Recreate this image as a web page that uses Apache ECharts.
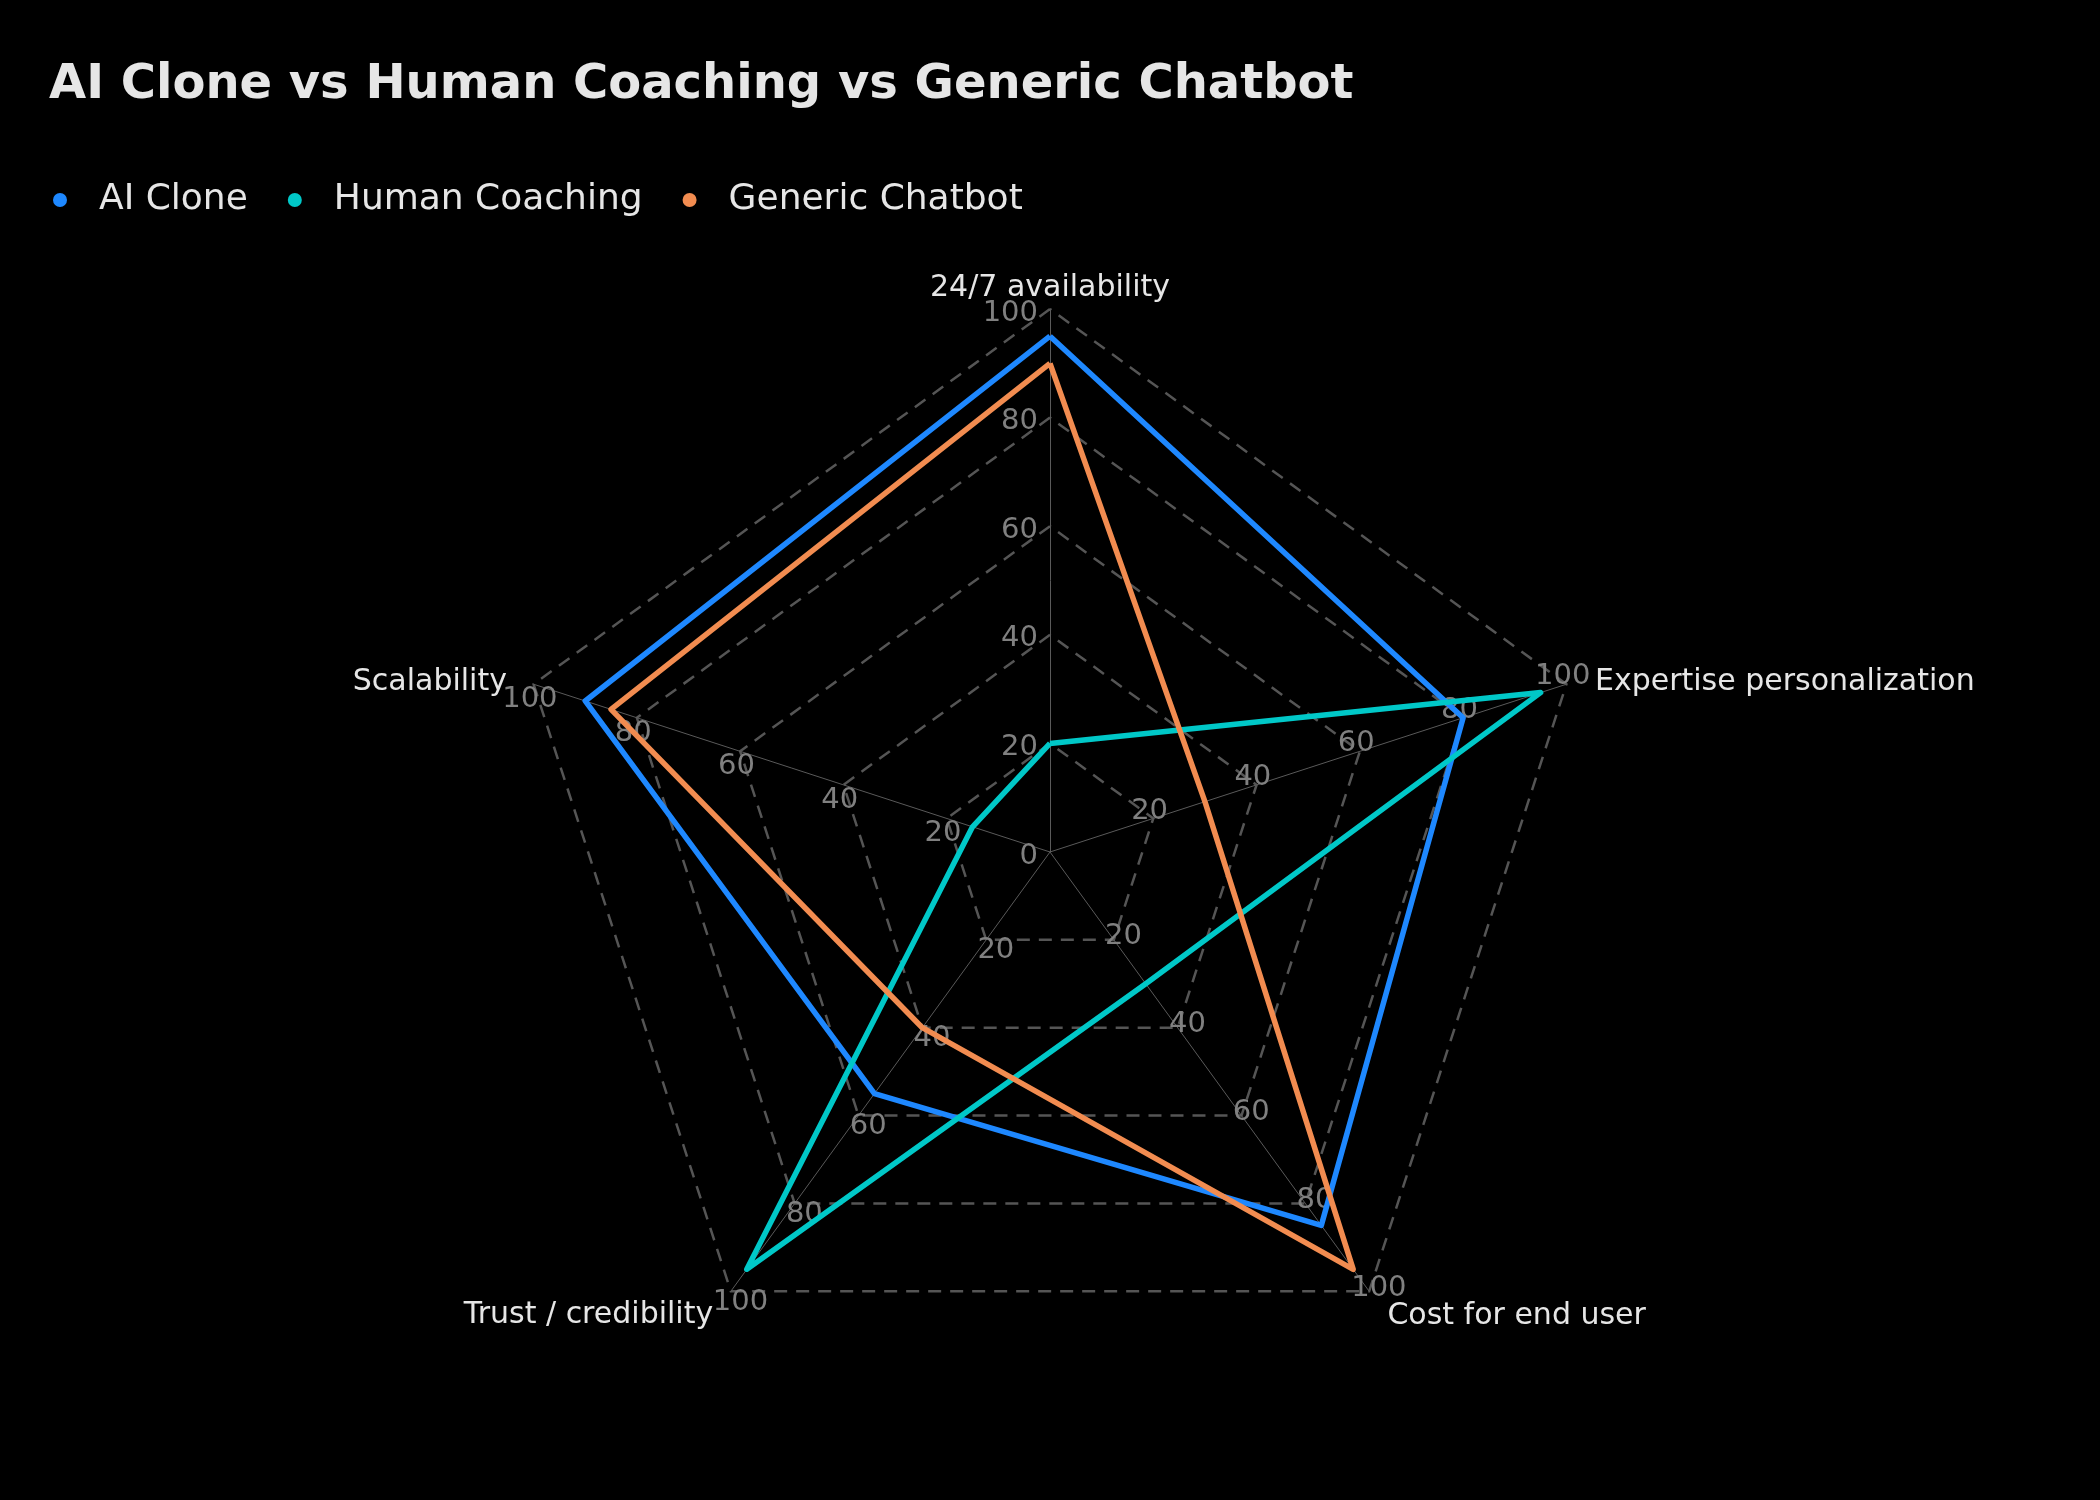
<!DOCTYPE html>
<html>
<head>
<meta charset="utf-8">
<title>AI Clone vs Human Coaching vs Generic Chatbot</title>
<script src="https://cdn.jsdelivr.net/npm/echarts@6/dist/echarts.min.js"></script>
<style>
  html, body { margin: 0; padding: 0; background: #000; }
  #chart { width: 2100px; height: 1500px; }
</style>
</head>
<body>
<div id="chart"></div>
<script>
  // radar axes, listed counter-clockwise from the top (echarts order)
  const indicatorNames = [
    "24/7 availability",
    "Scalability",
    "Trust / credibility",
    "Cost for end user",
    "Expertise personalization",
  ];
  const seriesNames = ["AI Clone", "Human Coaching", "Generic Chatbot"];
  const aiClone = [95, 90, 55, 85, 80];
  const humanCoaching = [20, 15, 95, 30, 95];
  const genericChatbot = [90, 85, 40, 95, 30];
  const seriesColors = ["#1e88ff", "#00c8c8", "#f28c50"];

  const FONT = "DejaVu Sans";
  const chart = echarts.init(document.getElementById("chart"));

  // gap between the 100 vertex and the axis name, per axis
  const nameGaps = [6, 28, 30, 31, 30];
  // names on the two upper side axes sit a bit lower
  const lowNames = ["Scalability", "Expertise personalization"];

  const indicators = indicatorNames.map((n, i) => ({
    name: n,
    min: 0,
    max: 100,
    nameGap: nameGaps[i],
    nameMoveOverlap: false,
    // only the top axis keeps its "0", the others would stack on it
    axisLabel: i === 0
      ? { showMinLabel: true }
      : { showMinLabel: false, align: "center", verticalAlign: "middle" },
  }));

  const option = {
    backgroundColor: "#000000",
    textStyle: { fontFamily: FONT },
    title: {
      text: "AI Clone vs Human Coaching vs Generic Chatbot",
      left: 44,
      top: 57,
      textStyle: { color: "#e6e6e6", fontSize: 48, fontWeight: "bold", fontFamily: FONT },
    },
    legend: {
      left: 48,
      top: 177,
      icon: "circle",
      itemWidth: 36,
      itemHeight: 14,
      itemGap: 40,
      data: seriesNames,
      textStyle: { color: "#e6e6e6", fontSize: 36, fontFamily: FONT, padding: [0, 0, 0, 16] },
    },
    radar: {
      center: ["50%", 852],
      radius: 543,
      shape: "polygon",
      splitNumber: 5,
      nameGap: 12,
      indicator: indicators,
      axisName: {
        color: "#e6e6e6", fontSize: 30, fontFamily: FONT,
        formatter: (name) => (lowNames.includes(name) ? "{low|" + name + "}" : name),
        rich: {
          low: { color: "#e6e6e6", fontSize: 30, fontFamily: FONT, padding: [14, 0, 0, 0] },
        },
      },
      axisLine: { show: true, lineStyle: { color: "#5a5a5a", width: 1 } },
      splitLine: { lineStyle: { color: "#555555", width: 2.5, type: [13, 9] } },
      splitArea: { show: false },
      axisTick: { show: false },
      axisLabel: {
        show: true, color: "#808080", fontSize: 29, fontFamily: FONT, margin: 12,
        formatter: (v) => "{v|" + v + "}",
        rich: {
          v: { color: "#808080", fontSize: 29, fontFamily: FONT, padding: [8, 0, 0, 0] },
        },
      },
    },
    series: [
      {
        type: "radar",
        symbol: "none",
        data: [
          { name: seriesNames[0], value: aiClone },
          { name: seriesNames[1], value: humanCoaching },
          { name: seriesNames[2], value: genericChatbot },
        ].map((d, i) => ({
          ...d,
          itemStyle: { color: seriesColors[i] },
          lineStyle: { color: seriesColors[i], width: 5.5 },
        })),
      },
    ],
  };
  chart.setOption(option);
</script>
</body>
</html>
